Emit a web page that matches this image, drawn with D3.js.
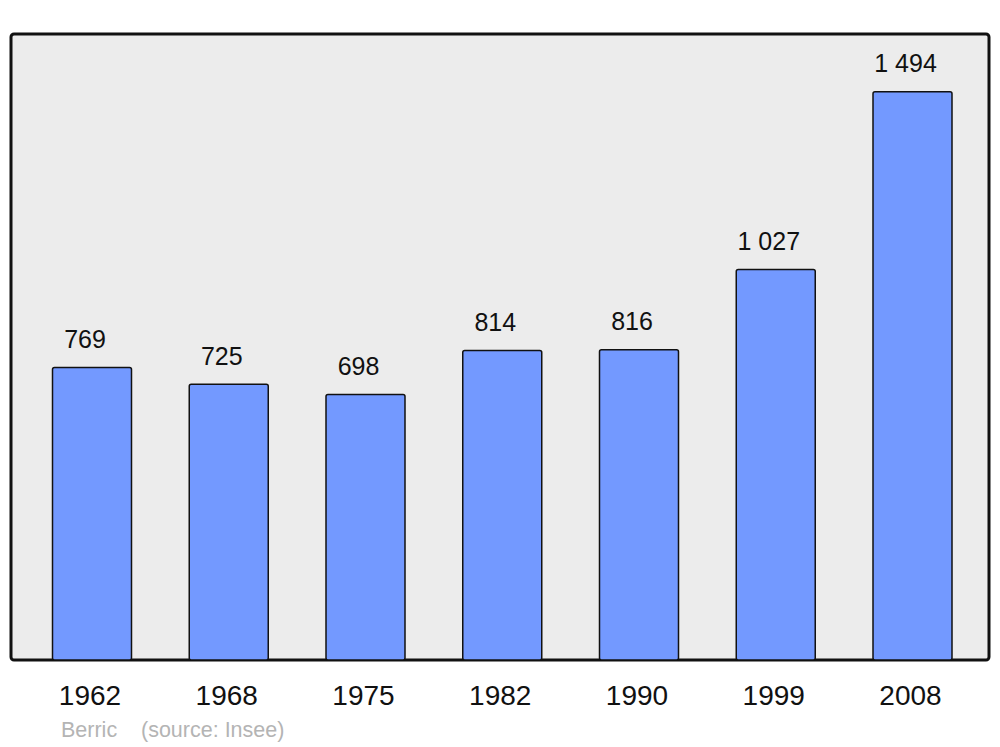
<!DOCTYPE html>
<html><head><meta charset="utf-8">
<script src="https://cdn.jsdelivr.net/npm/d3@7"></script>
<style>body{margin:0;background:#fff}svg{display:block}</style>
</head><body>
<svg id="c" width="1000" height="747"></svg>
<script>
const years = ["1962","1968","1975","1982","1990","1999","2008"];
const population = [769,725,698,814,816,1027,1494];
const labels = ["769","725","698","814","816","1 027","1 494"];
const commune = "Berric";
const source = "(source: Insee)";

const svg = d3.select("#c");
const font = "'Liberation Sans', Arial, sans-serif";
const frame = {x0: 11, y0: 34, x1: 989, y1: 660};

svg.append("rect").attr("x", frame.x0).attr("y", frame.y0)
  .attr("width", frame.x1 - frame.x0).attr("height", frame.y1 - frame.y0)
  .attr("rx", 3).attr("fill", "#ececec").attr("stroke", "#111").attr("stroke-width", 3);

const x = d3.scalePoint().domain(years).range([92, 912.5]);
const y = d3.scaleLinear().domain([0, 1646]).range([frame.y1, frame.y0]);
const bw = 79;

svg.append("g").selectAll("rect").data(years).join("rect")
  .attr("x", d => x(d) - bw / 2)
  .attr("y", (d, i) => y(population[i]))
  .attr("width", bw)
  .attr("height", (d, i) => y(0) - y(population[i]))
  .attr("rx", 2)
  .attr("fill", "#7399ff").attr("stroke", "#111").attr("stroke-width", 1.5);

svg.append("g").selectAll("text").data(years).join("text")
  .attr("x", d => x(d) - 7)
  .attr("y", (d, i) => y(population[i]) - 19.5)
  .attr("text-anchor", "middle").attr("font-family", font).attr("font-size", 25)
  .attr("fill", "#111").text((d, i) => labels[i]);

const axis = d3.axisBottom(x).tickSize(0).tickPadding(0);
const ag = svg.append("g").attr("transform", `translate(0,${frame.y1})`).call(axis);
ag.select(".domain").remove();
ag.selectAll("text").attr("font-family", font).attr("font-size", 28).attr("fill", "#111")
  .attr("dy", null).attr("y", 45).attr("x", -2.5);

svg.append("text").attr("x", 61).attr("y", 737).attr("font-family", font)
  .attr("font-size", 21.5).attr("fill", "#b4b4b4").text(commune);
svg.append("text").attr("x", 141).attr("y", 737).attr("font-family", font)
  .attr("font-size", 21.5).attr("fill", "#b4b4b4").text(source);
</script>
</body></html>
